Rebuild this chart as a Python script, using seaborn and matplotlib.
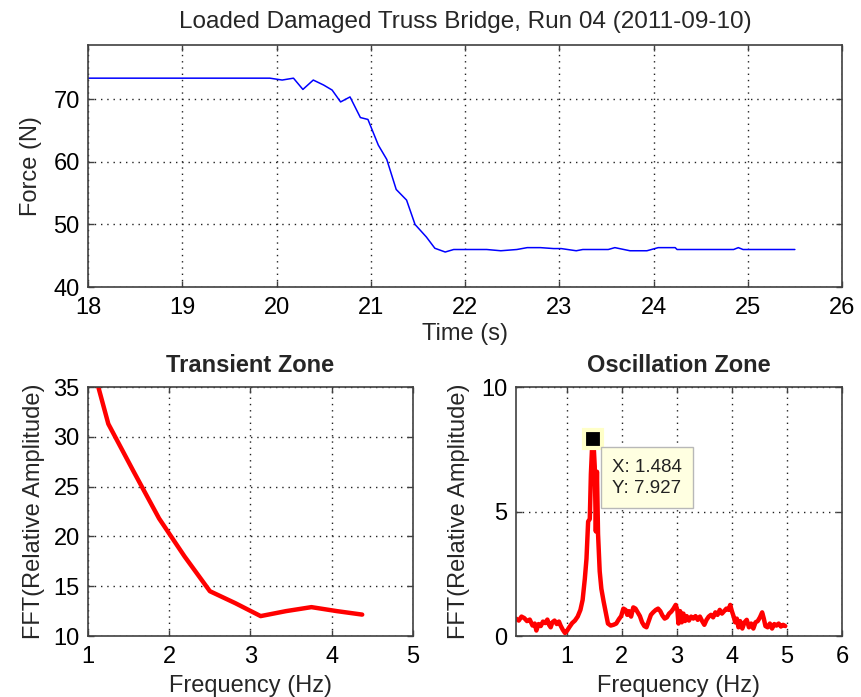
import matplotlib
matplotlib.use("Agg")
import matplotlib.pyplot as plt
import seaborn as sns
import pandas as pd

# Load history of the truss bridge test
time_s = [18.00, 19.93, 20.06, 20.18, 20.28, 20.39, 20.50, 20.59, 20.68, 20.78,
          20.89, 20.97, 21.08, 21.17, 21.27, 21.38, 21.47, 21.59, 21.68, 21.79,
          21.88, 22.23, 22.38, 22.55, 22.66, 22.80, 22.94, 23.02, 23.18, 23.25,
          23.52, 23.59, 23.75, 23.93, 24.05, 24.23, 24.25, 24.85, 24.90, 24.95,
          25.50]
force_n = [73.4, 73.4, 73.1, 73.4, 71.6, 73.1, 72.3, 71.5, 69.6, 70.4,
           67.1, 66.8, 62.7, 60.4, 55.6, 53.9, 50.0, 48.0, 46.2, 45.6,
           46.0, 46.0, 45.8, 46.0, 46.3, 46.3, 46.15, 46.15, 45.8, 46.0,
           46.0, 46.3, 45.8, 45.8, 46.3, 46.3, 46.0, 46.0, 46.3, 46.0,
           46.0]

# Spectrum of the transient zone
freq_trans = [0.9375, 1.25, 1.5625, 1.875, 2.1875, 2.5, 2.8125, 3.125,
              3.4375, 3.75, 4.0625, 4.375]
amp_trans = [40.7, 31.3, 26.5, 21.8, 18.0, 14.5, 13.3, 12.0,
             12.5, 12.9, 12.5, 12.15]

# Spectrum of the oscillation zone
freq_osc = [0.08, 0.13, 0.18, 0.23, 0.28, 0.33, 0.38, 0.42, 0.45, 0.49,
            0.53, 0.57, 0.61, 0.65, 0.68, 0.71, 0.74, 0.78, 0.82, 0.86,
            0.89, 0.93, 0.97, 1.01, 1.05, 1.10, 1.15, 1.20, 1.25, 1.29,
            1.33, 1.36, 1.39, 1.42, 1.44, 1.46, 1.484, 1.51, 1.53, 1.55,
            1.57, 1.60, 1.63, 1.67, 1.71, 1.75, 1.80, 1.85, 1.90, 1.95,
            1.99, 2.03, 2.07, 2.10, 2.13, 2.17, 2.21, 2.25, 2.29, 2.33,
            2.37, 2.41, 2.45, 2.49, 2.53, 2.57, 2.62, 2.66, 2.70, 2.74,
            2.78, 2.82, 2.86, 2.90, 2.94, 2.98, 3.01, 3.03, 3.06, 3.09,
            3.12, 3.15, 3.18, 3.22, 3.26, 3.30, 3.34, 3.38, 3.42, 3.46,
            3.50, 3.54, 3.58, 3.62, 3.66, 3.70, 3.74, 3.78, 3.82, 3.86,
            3.90, 3.94, 3.97, 4.00, 4.03, 4.06, 4.09, 4.12, 4.15, 4.19,
            4.23, 4.27, 4.31, 4.35, 4.39, 4.43, 4.47, 4.51, 4.55, 4.58,
            4.61, 4.65, 4.69, 4.73, 4.77, 4.81, 4.85, 4.89, 4.93, 4.97]
amp_osc = [0.70, 0.62, 0.78, 0.72, 0.60, 0.66, 0.42, 0.50, 0.22, 0.48,
           0.40, 0.58, 0.52, 0.66, 0.45, 0.35, 0.55, 0.62, 0.48, 0.58,
           0.42, 0.25, 0.12, 0.22, 0.36, 0.52, 0.62, 0.78, 1.05, 1.45,
           2.30, 3.10, 4.60, 4.70, 6.50, 7.50, 7.927, 6.80, 4.20, 6.60,
           4.10, 2.60, 1.90, 1.40, 0.95, 0.50, 0.42, 0.45, 0.50, 0.68,
           0.80, 1.10, 1.05, 0.85, 1.00, 0.78, 1.15, 1.10, 0.95, 0.80,
           0.55, 0.40, 0.35, 0.60, 0.85, 0.95, 1.05, 1.10, 1.00, 0.82,
           0.70, 0.75, 0.90, 0.98, 1.10, 1.25, 1.05, 0.50, 1.00, 0.55,
           0.90, 0.60, 0.80, 0.62, 0.78, 0.70, 0.80, 0.65, 0.78, 0.60,
           0.45, 0.65, 0.78, 0.85, 0.75, 0.95, 0.85, 1.05, 0.90, 1.00,
           1.10, 1.05, 1.25, 1.00, 0.80, 0.55, 0.70, 0.35, 0.60, 0.30,
           0.55, 0.65, 0.35, 0.50, 0.30, 0.55, 0.60, 0.75, 0.95, 0.70,
           0.40, 0.35, 0.50, 0.30, 0.48, 0.42, 0.50, 0.38, 0.45, 0.40]

peak_x, peak_y = 1.484, 7.927

sns.set_theme(style="white")
plt.rcParams["font.family"] = ["Liberation Sans", "DejaVu Sans"]
FS = 17

fig = plt.figure(figsize=(8.62, 6.97), dpi=100)
fig.patch.set_facecolor("white")

ax_top = fig.add_axes([0.1021, 0.5882, 0.8747, 0.3472])
ax_bl = fig.add_axes([0.1021, 0.0875, 0.3770, 0.3572])
ax_br = fig.add_axes([0.5986, 0.0875, 0.3782, 0.3572])

def style_axes(ax):
    for sp in ax.spines.values():
        sp.set_color("#404040")
        sp.set_linewidth(1.2)
        sp.set_visible(True)
    ax.tick_params(direction="in", length=4, width=1, colors="#404040",
                   top=True, right=True, bottom=True, left=True,
                   labelsize=FS, labelcolor="black")
    ax.tick_params(axis="x", pad=7)
    ax.tick_params(axis="y", pad=6)
    ax.grid(True, color="#222222", linestyle=(0, (1, 3.5)), linewidth=1.0)
    ax.set_axisbelow(True)

df_top = pd.DataFrame({"t": time_s, "f": force_n})
sns.lineplot(data=df_top, x="t", y="f", ax=ax_top, color="#0000ff",
             linewidth=1.1, estimator=None, sort=False)
ax_top.set_xlim(18, 26)
ax_top.set_ylim(40, 78.7)
ax_top.set_xticks(range(18, 27))
ax_top.set_yticks([40, 50, 60, 70])
ax_top.set_xlabel("Time (s)", fontsize=FS, labelpad=3)
ax_top.set_ylabel("Force (N)", fontsize=FS, labelpad=8)
ax_top.set_title("Loaded Damaged Truss Bridge, Run 04 (2011-09-10)",
                 fontsize=17.5, pad=12)
style_axes(ax_top)

df_tr = pd.DataFrame({"f": freq_trans, "a": amp_trans})
sns.lineplot(data=df_tr, x="f", y="a", ax=ax_bl, color="#ff0000",
             linewidth=3.2, estimator=None, sort=False)
ax_bl.set_xlim(1, 5)
ax_bl.set_ylim(10, 35)
ax_bl.set_xticks([1, 2, 3, 4, 5])
ax_bl.set_yticks([10, 15, 20, 25, 30, 35])
ax_bl.set_xlabel("Frequency (Hz)", fontsize=FS, labelpad=5)
ax_bl.set_ylabel("FFT(Relative Amplitude)", fontsize=FS, labelpad=6)
ax_bl.set_title("Transient Zone", fontsize=FS, fontweight="bold", pad=11)
style_axes(ax_bl)

df_os = pd.DataFrame({"f": freq_osc, "a": amp_osc})
sns.lineplot(data=df_os, x="f", y="a", ax=ax_br, color="#ff0000",
             linewidth=3.2, estimator=None, sort=False)
ax_br.set_xlim(0.08, 6)
ax_br.set_ylim(0, 10)
ax_br.set_xticks([1, 2, 3, 4, 5, 6])
ax_br.set_yticks([0, 5, 10])
ax_br.set_xlabel("Frequency (Hz)", fontsize=FS, labelpad=5)
ax_br.set_ylabel("FFT(Relative Amplitude)", fontsize=FS, labelpad=8)
ax_br.set_title("Oscillation Zone", fontsize=FS, fontweight="bold", pad=11)
style_axes(ax_br)

# Data cursor on the dominant peak
ax_br.plot([peak_x], [peak_y], marker="s", markersize=13.5, color="black",
           markeredgecolor="#ffffc8", markeredgewidth=3, zorder=5,
           clip_on=False)
ax_br.annotate(f"X: {peak_x}\nY: {peak_y}", xy=(peak_x, peak_y),
               xytext=(19, -20), textcoords="offset pixels",
               ha="left", va="top", fontsize=13.5, color="#222222",
               linespacing=1.3, zorder=6,
               bbox=dict(boxstyle="square,pad=0.6", fc="#ffffe1",
                         ec="#b8b8b8", lw=1))

fig.savefig("out.png", dpi=100, facecolor="white")
